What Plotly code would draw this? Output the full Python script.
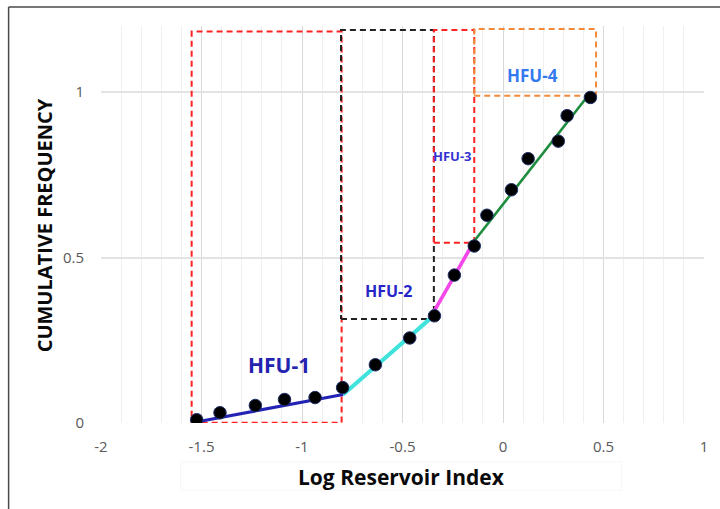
import plotly.graph_objects as go

# ---- data ----
pts_x = [-1.524, -1.408, -1.232, -1.087, -0.935, -0.798, -0.635, -0.464, -0.341,
         -0.242, -0.143, -0.080, 0.042, 0.125, 0.275, 0.319, 0.435]
pts_y = [0.010, 0.031, 0.053, 0.071, 0.077, 0.107, 0.176, 0.257, 0.324,
         0.447, 0.535, 0.628, 0.705, 0.799, 0.852, 0.929, 0.984]

seg_names = ["HFU-1 fit", "HFU-2 fit", "HFU-3 fit", "HFU-4 fit"]
seg_x0 = [-1.499, -0.795, -0.365, -0.143]
seg_y0 = [0.006, 0.086, 0.314, 0.550]
seg_x1 = [-0.795, -0.365, -0.143, 0.420]
seg_y1 = [0.086, 0.314, 0.550, 0.987]
seg_colors = ["#2323b5", "#3fe3dc", "#f546ea", "#1e8c3e"]
seg_widths = [3.2, 4, 3.6, 2.6]

box_x0 = [-1.549, -0.806, -0.344, -0.143]
box_x1 = [-0.803, -0.344, -0.143, 0.463]
box_y0 = [0.001, 0.314, 0.545, 0.989]
box_y1 = [1.183, 1.188, 1.188, 1.191]
box_colors = ["#ff2222", "#222222", "#ff2222", "#f28a3a"]

labels = ["HFU-1", "HFU-2", "HFU-3", "HFU-4"]
label_x = [-1.116, -0.572, -0.252, 0.146]
label_y = [0.174, 0.399, 0.806, 1.050]
label_size = [21, 16, 13, 17]
label_color = ["#2323b0", "#2626c8", "#3333d0", "#3379f0"]

x_ticks = [-2, -1.5, -1, -0.5, 0, 0.5, 1]
x_tick_text = ["-2", "-1.5", "-1", "-0.5", "0", "0.5", "1"]
y_ticks = [0, 0.5, 1]
y_tick_text = ["0", "0.5", "1"]

fig = go.Figure()

# dashed boxes (drawn first, below lines and points)
for x0, x1, y0, y1, c in zip(box_x0, box_x1, box_y0, box_y1, box_colors):
    fig.add_trace(go.Scatter(
        x=[x0, x1, x1, x0, x0], y=[y0, y0, y1, y1, y0], mode="lines",
        line=dict(color=c, width=2, dash="6px,4px"), showlegend=False, hoverinfo="skip"))

for n, x0, y0, x1, y1, c, w in zip(seg_names, seg_x0, seg_y0, seg_x1, seg_y1, seg_colors, seg_widths):
    fig.add_trace(go.Scatter(x=[x0, x1], y=[y0, y1], mode="lines", name=n,
                             line=dict(color=c, width=w), showlegend=False))

fig.add_trace(go.Scatter(x=pts_x, y=pts_y, mode="markers", name="data",
                         marker=dict(color="black", size=12.5, line=dict(color="#1f2f6a", width=1)),
                         showlegend=False))

for t, x, y, s, c in zip(labels, label_x, label_y, label_size, label_color):
    fig.add_annotation(x=x, y=y, text="<b>%s</b>" % t, showarrow=False,
                       xanchor="center", yanchor="middle",
                       font=dict(family="Open Sans", size=s, color=c))

# layout geometry
L, R, T, B = 101, 12, 26, 86
W, H = 720, 509
pw, ph = W - L - R, H - T - B

def px(xp):
    return (xp - L) / pw

def py(yp):
    return (H - B - yp) / ph

# axis titles
fig.add_annotation(x=px(403), y=py(477), xref="paper", yref="paper", showarrow=False,
                   xanchor="center", yanchor="middle",
                   text="<b>Log Reservoir Index</b>",
                   font=dict(family="Open Sans", size=21, color="#0a0a0a"))
fig.add_annotation(x=px(45), y=py(225), xref="paper", yref="paper", showarrow=False,
                   xanchor="center", yanchor="middle",
                   text="<b>CUMULATIVE FREQUENCY</b>", textangle=-90,
                   font=dict(family="Open Sans", size=20, color="#0a0a0a"))

# outer frame (left and top edges) and faint title box
fig.add_shape(type="line", xref="paper", yref="paper", x0=px(8), x1=px(8), y0=py(7), y1=py(520),
              line=dict(color="#4a4a4a", width=1.5))
fig.add_shape(type="line", xref="paper", yref="paper", x0=px(8), x1=px(730), y0=py(7), y1=py(7),
              line=dict(color="#4a4a4a", width=1.5))
fig.add_shape(type="rect", xref="paper", yref="paper", x0=px(181), x1=px(625), y0=py(490), y1=py(462),
              line=dict(color="#f6f6f6", width=1))

fig.update_layout(
    width=W, height=H,
    margin=dict(l=L, r=R, t=T, b=B),
    paper_bgcolor="white", plot_bgcolor="white",
    showlegend=False,
    xaxis=dict(range=[-2, 1], tickvals=x_ticks, ticktext=x_tick_text,
               showgrid=True, gridcolor="#d9d9d9", gridwidth=1,
               minor=dict(dtick=0.1, showgrid=True, gridcolor="#efefef", gridwidth=1),
               zeroline=False, showline=False, ticks="",
               tickfont=dict(family="Open Sans", size=15, color="#595959"),
               ticklabelstandoff=13, fixedrange=True),
    yaxis=dict(range=[0, 1.2], tickvals=y_ticks, ticktext=y_tick_text,
               showgrid=True, gridcolor="#e3e3e3", gridwidth=1.5,
               zeroline=False, showline=False, ticks="",
               tickfont=dict(family="Open Sans", size=15, color="#595959"),
               ticklabelstandoff=16, fixedrange=True),
)

fig.write_html("out.html")
